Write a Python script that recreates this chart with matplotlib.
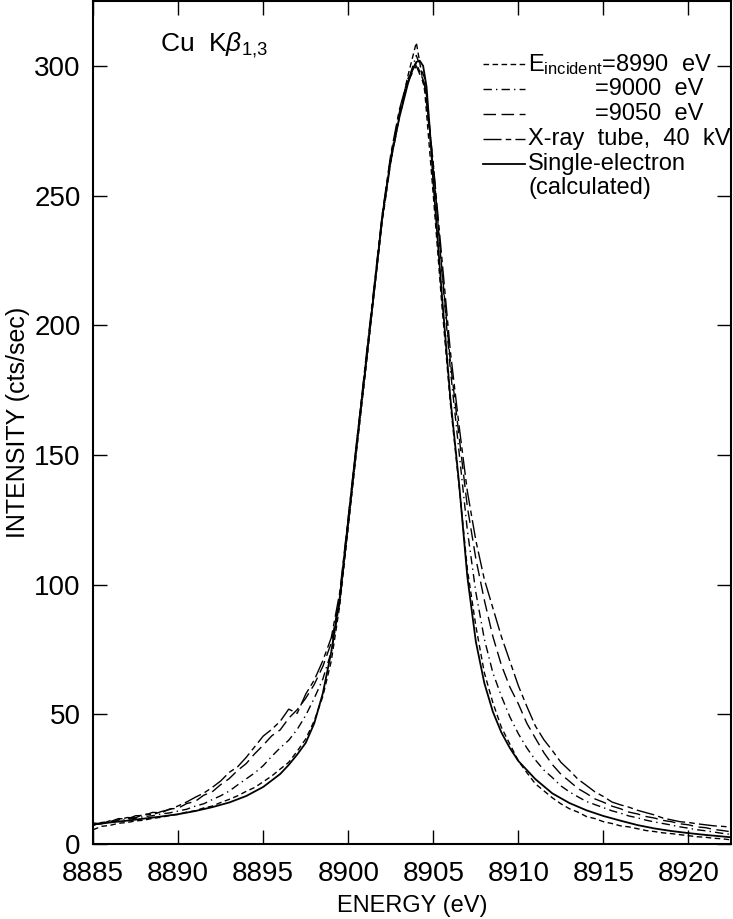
import numpy as np
import matplotlib
matplotlib.use("Agg")
import matplotlib.pyplot as plt

plt.rcParams['font.family'] = ['Liberation Sans', 'DejaVu Sans']
plt.rcParams['mathtext.fontset'] = 'custom'
plt.rcParams['mathtext.rm'] = 'Liberation Sans'
plt.rcParams['mathtext.it'] = 'Liberation Sans:italic'

# measured spectra, 0.5 eV steps from 8885 to 8922.5 eV
energy = np.arange(8885.0, 8922.75, 0.5)

inc_8990 = [5.5, 6.8, 7.2, 8.0, 8.3, 8.9, 9.2, 9.9, 10.3, 11.0, 11.4, 12.3, 12.8, 13.9, 14.6, 16.0,
            17.2, 18.6, 20.3, 21.8, 24.0, 26.2, 28.9, 31.5, 35.8, 40.5, 47.5, 56.8, 70.5, 92,
            122, 152, 181, 211, 240, 263, 281, 296, 309, 290, 250, 208, 170, 139, 106, 84,
            66, 54.5, 45, 38.5, 32, 27.5, 23.2, 20.5, 17.8, 15.5, 13.6, 12.3, 10.6, 9.8, 8.6,
            7.9, 7.0, 6.6, 5.9, 5.2, 4.8, 4.3, 4.0, 3.6, 3.2, 2.8, 2.6, 2.2, 2.0, 1.6]

inc_9000 = [7.4, 7.9, 8.6, 8.9, 9.5, 10.0, 10.6, 10.9, 11.6, 12.0, 12.7, 13.4, 14.6, 15.5, 17.1, 18.6,
            20.4, 22.8, 25.1, 27.4, 30.2, 33.8, 37.1, 40.0, 44.2, 49.6, 56.2, 63.5, 74.0, 93,
            123, 153, 182, 212, 241, 263, 280, 294, 304, 295, 262, 221, 183, 152, 121, 97,
            79, 66, 57, 49, 42.5, 37, 32.4, 28.5, 25.6, 22.4, 20.1, 18.2, 16.4, 15.2, 14.0,
            12.8, 11.9, 10.8, 10.1, 9.2, 8.5, 7.9, 7.3, 6.6, 6.1, 5.5, 5.1, 4.6, 4.1, 3.7]

inc_9050 = [7.2, 8.3, 8.6, 9.8, 9.6, 10.9, 11.0, 12.2, 12.0, 13.5, 13.8, 15.6, 16.4, 18.8, 20.1, 22.9,
            25.2, 28.4, 31.0, 34.8, 38.1, 41.7, 44.0, 48.5, 51.8, 56.2, 61.5, 68.4, 77.5, 95,
            124, 154, 184, 213, 242, 265, 282, 294, 300, 292, 260, 222, 186, 158, 130, 110,
            94, 80, 69, 60.5, 54, 46.5, 40.8, 35.2, 30.6, 26.9, 24.2, 21.4, 19.5, 17.4, 16.1,
            14.6, 13.6, 12.3, 11.6, 10.6, 10.0, 9.1, 8.6, 7.8, 7.4, 6.6, 6.3, 5.6, 5.2, 4.7]

tube_40kv = [8.1, 7.8, 9.0, 9.3, 10.2, 10.1, 11.6, 11.3, 12.5, 13.3, 14.7, 16.2, 18.0, 19.6, 21.8, 24.3,
             27.6, 29.8, 33.4, 37.5, 41.6, 44.2, 47.3, 52.0, 50.4, 57.8, 63.2, 70.6, 79.5, 97,
             126, 155, 185, 214, 243, 266, 283, 295, 301, 293, 262, 226, 190, 162, 136, 117,
             102, 91, 80, 70.5, 61, 53, 45.5, 40.2, 36.0, 31.5, 28.4, 25.0, 22.6, 20.1, 18.3,
             16.2, 15.1, 14.2, 13.0, 12.1, 11.2, 10.0, 9.3, 8.6, 8.3, 7.8, 7.4, 7.0, 6.8, 6.5]

# single-electron calculation
energy_calc = [8885, 8886, 8887, 8888, 8889, 8890, 8891, 8892, 8893, 8894, 8895, 8896, 8896.5,
               8897, 8897.5, 8898, 8898.5, 8899, 8899.5, 8900, 8900.5, 8901, 8901.5, 8902,
               8902.5, 8903, 8903.5, 8903.8, 8904.0, 8904.2, 8904.4, 8904.6, 8904.8, 8905,
               8905.5, 8906, 8906.5, 8907, 8907.5, 8908, 8908.5, 8909, 8909.5, 8910, 8911,
               8912, 8913, 8914, 8915, 8916, 8917, 8918, 8919, 8920, 8921, 8922, 8922.5]
calc = [7.5, 8.3, 9.0, 9.8, 10.6, 11.5, 12.7, 14.2, 16.0, 18.5, 22.0, 27.0, 30.5,
        34.5, 39, 46.5, 58, 74, 95, 125, 155, 183, 212, 242,
        264, 280, 293, 299, 301.5, 302, 300, 292, 275, 255,
        212, 172, 140, 103, 78, 62, 51, 43, 37, 32, 25,
        19.5, 15.8, 13, 10.8, 9.0, 7.3, 6.0, 5.0, 4.2, 3.5, 2.9, 2.6]

styles = [
    (inc_8990, (0, (4, 2.5))),
    (inc_9000, (0, (6, 3, 1, 3))),
    (inc_9050, (0, (9, 4))),
    (tube_40kv, (0, (13, 3, 4, 3))),
]

fig = plt.figure(figsize=(7.33, 9.19), dpi=100)
ax = fig.add_axes([0.127, 0.0816, 0.8703, 0.9173])

for y, ls in styles:
    ax.plot(energy, y, color='black', lw=1.0, linestyle=ls)
ax.plot(energy_calc, calc, color='black', lw=1.3)

ax.set_xlim(8885, 8922.5)
ax.set_ylim(0, 325)
ax.set_xticks(np.arange(8885, 8921, 5))
ax.set_yticks(np.arange(0, 301, 50))
ax.tick_params(direction='in', length=10, width=1.0, top=True, right=True, labelsize=20)
ax.tick_params(axis='x', pad=12)
ax.tick_params(axis='y', pad=9)
for s in ax.spines.values():
    s.set_linewidth(1.5)

ax.set_xlabel('ENERGY (eV)', fontsize=17)
ax.xaxis.set_label_coords(0.5, -0.06)
ax.set_ylabel('INTENSITY (cts/sec)', fontsize=18)
ax.yaxis.set_label_coords(-0.099, 0.5)

ax.text(0.105, 0.948, r'Cu  K$\beta_{1{,}3}$', transform=ax.transAxes,
        fontsize=19, va='center', ha='left')

# legend drawn by hand to keep the aligned "=" entries
rows = [0.925, 0.896, 0.866, 0.836, 0.807]
labels = [r'E$_{\mathrm{incident}}$=8990  eV', None, None, 'X-ray  tube,  40  kV', 'Single-electron']
for (y, ls), r in zip(styles + [(None, '-')], rows):
    ax.plot([0.611, 0.677], [r, r], transform=ax.transAxes, color='black',
            lw=1.3 if ls == '-' else 1.0, linestyle=ls, clip_on=False)
for lab, r in zip(labels, rows):
    if lab:
        ax.text(0.682, r, lab, transform=ax.transAxes, fontsize=17, va='center', ha='left')
ax.text(0.787, rows[1], '=9000  eV', transform=ax.transAxes, fontsize=17, va='center', ha='left')
ax.text(0.787, rows[2], '=9050  eV', transform=ax.transAxes, fontsize=17, va='center', ha='left')
ax.text(0.682, 0.778, '(calculated)', transform=ax.transAxes, fontsize=17, va='center', ha='left')

fig.savefig('out.png', dpi=100)
